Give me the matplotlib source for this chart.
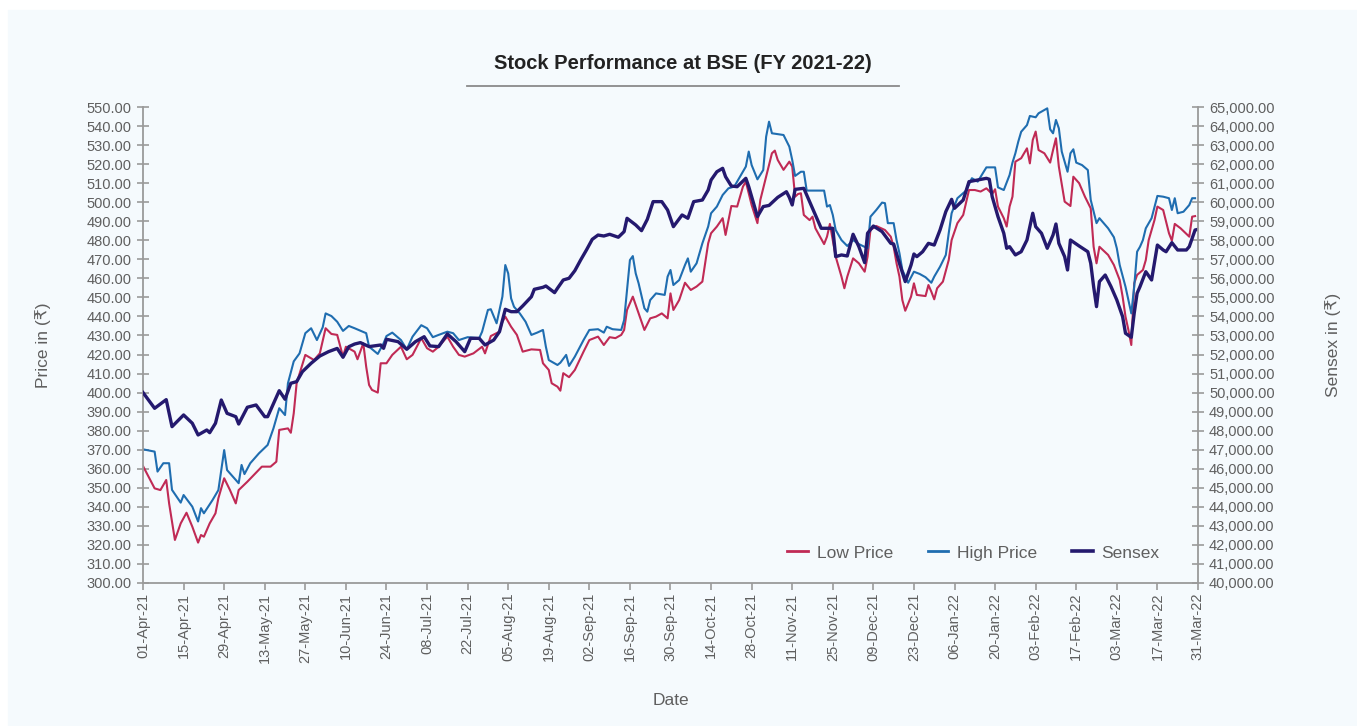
import numpy as np
import matplotlib.pyplot as plt
import matplotlib.dates as mdates
from matplotlib.lines import Line2D
from matplotlib.patches import Rectangle
from matplotlib.ticker import FuncFormatter

plt.rcParams['font.family'] = ['Liberation Sans', 'DejaVu Sans']

start = np.datetime64('2021-04-01')

# day offsets from 01-Apr-21 and values
low_days = [0, 4, 6, 8, 9, 11, 13, 15, 17, 19,
            20, 21, 23, 25, 26, 28, 30, 32, 33, 36,
            39, 41, 44, 46, 47, 50, 51, 52, 53, 56,
            59, 61, 63, 65, 67, 69, 70, 73, 74, 76,
            77, 78, 79, 81, 82, 84, 86, 89, 91, 93,
            96, 98, 100, 102, 105, 107, 109, 111, 114, 117,
            118, 120, 123, 124, 125, 127, 129, 131, 134, 137,
            138, 140, 141, 143, 144, 145, 147, 149, 152, 154,
            157, 159, 161, 163, 165, 166, 167, 169, 171, 173,
            175, 177, 179, 181, 182, 183, 185, 187, 189, 191,
            193, 195, 196, 198, 200, 201, 203, 205, 207, 208,
            210, 212, 213, 215, 217, 218, 219, 221, 223, 224,
            225, 226, 227, 228, 230, 231, 232, 235, 236, 237,
            239, 241, 242, 243, 245, 247, 249, 250, 251, 253,
            256, 258, 259, 260, 261, 262, 263, 265, 266, 267,
            270, 271, 272, 273, 274, 276, 278, 279, 281, 283,
            285, 287, 289, 291, 293, 294, 295, 297, 298, 299,
            300, 301, 303, 305, 306, 307, 308, 309, 311, 313,
            314, 315, 316, 318, 320, 321, 323, 325, 327, 328,
            329, 330, 333, 335, 337, 338, 339, 340, 341, 342,
            343, 345, 346, 347, 349, 350, 352, 353, 354, 355,
            356, 358, 361, 362, 363]
low_price = [361.4, 349.7, 348.8, 354.1, 341.8, 322.6, 331.3, 336.9, 329.6, 321.2,
             325.2, 324.3, 331.3, 336.6, 344.5, 355.0, 348.8, 341.8, 348.8, 353.2,
             357.9, 361.1, 361.1, 363.7, 380.4, 381.2, 378.9, 389.1, 404.9, 419.8,
             417.1, 420.6, 433.8, 430.8, 430.3, 418.9, 424.1, 421.5, 417.5, 425.9,
             413.6, 404.0, 401.4, 400.0, 415.4, 415.4, 419.8, 424.1, 417.5, 419.8,
             428.6, 423.3, 421.5, 424.1, 429.4, 424.1, 419.8, 418.9, 420.6, 424.1,
             420.6, 429.7, 432.0, 437.2, 439.9, 434.6, 430.3, 421.5, 422.7, 422.4,
             415.4, 411.9, 404.9, 403.1, 401.0, 410.2, 408.1, 411.9, 421.5, 427.6,
             429.4, 425.0, 429.1, 428.6, 430.3, 432.9, 443.4, 450.4, 441.7, 432.9,
             439.0, 439.9, 441.6, 439.0, 452.1, 443.4, 448.6, 457.7, 453.9, 455.7,
             458.3, 478.4, 483.7, 487.2, 491.6, 482.8, 498.0, 497.7, 508.2, 510.8,
             498.5, 489.0, 501.2, 513.4, 525.7, 527.1, 522.2, 517.0, 521.3, 518.7,
             502.9, 504.3, 504.7, 493.3, 490.6, 492.4, 486.3, 478.0, 481.9, 488.6,
             471.4, 460.9, 454.8, 460.9, 470.5, 467.9, 463.5, 471.4, 485.4, 487.5,
             485.4, 481.9, 476.6, 467.9, 460.9, 448.6, 443.0, 450.4, 457.4, 451.3,
             450.7, 456.5, 453.0, 449.0, 454.8, 458.3, 469.6, 480.1, 489.0, 493.3,
             506.4, 506.4, 505.6, 507.3, 504.3, 506.8, 497.7, 491.6, 487.2, 497.7,
             502.9, 521.3, 523.1, 528.3, 520.4, 532.7, 537.1, 527.4, 525.7, 520.8,
             527.4, 533.6, 518.7, 500.3, 498.0, 513.4, 510.0, 502.9, 496.8, 476.6,
             467.9, 476.6, 472.3, 467.0, 459.1, 450.4, 439.9, 432.9, 425.0, 457.4,
             461.8, 464.4, 469.6, 480.1, 490.6, 497.7, 495.9, 489.8, 483.7, 479.8,
             488.6, 486.3, 481.9, 492.4, 492.7]

high_days = [0, 4, 5, 7, 9, 10, 13, 14, 17, 19,
             20, 21, 24, 26, 28, 29, 32, 33, 34, 35,
             37, 40, 43, 45, 47, 49, 50, 52, 54, 56,
             58, 60, 62, 63, 65, 67, 69, 71, 73, 77,
             78, 81, 83, 84, 86, 89, 91, 93, 96, 98,
             100, 102, 105, 107, 109, 112, 116, 117, 119, 120,
             122, 124, 125, 126, 127, 128, 130, 132, 134, 136,
             138, 139, 140, 143, 144, 146, 147, 149, 152, 154,
             157, 159, 160, 162, 165, 166, 167, 168, 169, 170,
             171, 173, 174, 175, 177, 180, 181, 182, 183, 185,
             187, 188, 189, 191, 193, 195, 196, 198, 200, 202,
             204, 206, 208, 209, 210, 212, 214, 215, 216, 217,
             221, 223, 224, 225, 227, 228, 229, 235, 236, 237,
             238, 239, 241, 243, 245, 247, 250, 251, 253, 255,
             256, 257, 259, 260, 261, 262, 264, 266, 268, 270,
             272, 273, 275, 277, 278, 279, 281, 284, 286, 288,
             291, 294, 295, 297, 299, 300, 301, 302, 303, 305,
             306, 308, 309, 312, 313, 314, 315, 316, 317, 319,
             320, 321, 322, 324, 326, 327, 328, 329, 330, 333,
             335, 336, 337, 339, 340, 341, 342, 343, 344, 345,
             346, 348, 350, 352, 354, 355, 356, 357, 359, 361,
             362, 363]
high_price = [370.2, 369.0, 358.5, 362.9, 362.9, 348.9, 342.2, 346.2, 340.1, 332.3,
              339.3, 336.6, 343.6, 348.8, 369.8, 359.3, 354.1, 352.4, 362.0, 357.2,
              362.9, 368.1, 372.5, 381.2, 391.8, 388.2, 404.9, 416.4, 420.6, 431.2,
              433.8, 427.6, 434.3, 441.6, 440.2, 437.2, 432.4, 435.0, 433.8, 431.2,
              424.1, 420.3, 425.9, 429.7, 431.5, 427.6, 422.7, 429.4, 435.4, 433.8,
              429.1, 430.3, 432.0, 431.2, 427.6, 429.1, 428.6, 432.0, 443.4, 443.8,
              436.4, 450.4, 467.0, 462.6, 449.5, 445.1, 441.6, 437.2, 430.3, 431.5,
              432.9, 424.1, 417.1, 414.5, 415.7, 419.8, 414.0, 418.9, 427.6, 432.9,
              433.3, 431.5, 434.6, 433.3, 432.9, 438.1, 453.9, 469.6, 471.7, 462.6,
              457.4, 444.3, 442.5, 448.6, 452.1, 451.3, 460.9, 464.4, 456.5, 459.1,
              467.0, 470.5, 463.5, 467.9, 478.4, 487.2, 494.2, 497.7, 503.8, 507.3,
              508.2, 513.4, 518.7, 526.6, 519.5, 512.0, 516.9, 534.4, 542.3, 536.2,
              535.3, 529.2, 522.2, 513.8, 516.0, 516.0, 506.1, 506.1, 497.7, 498.5,
              493.3, 485.4, 480.1, 477.0, 480.1, 478.0, 475.8, 492.4, 495.9, 499.8,
              499.5, 489.0, 489.0, 480.1, 473.2, 464.4, 457.7, 463.5, 462.3, 460.6,
              457.7, 460.9, 466.1, 472.3, 483.7, 494.2, 502.1, 506.1, 512.6, 510.8,
              518.3, 518.3, 507.8, 506.4, 514.3, 520.8, 525.7, 531.8, 537.0, 540.5,
              545.3, 544.6, 546.7, 549.3, 538.3, 536.2, 543.2, 538.8, 526.6, 516.0,
              525.7, 527.8, 520.8, 519.5, 516.9, 501.2, 495.0, 489.0, 491.6, 486.3,
              481.6, 475.8, 467.0, 455.6, 448.6, 441.6, 455.6, 474.0, 476.6, 480.1,
              486.3, 491.6, 503.3, 502.9, 502.1, 495.9, 502.1, 494.2, 495.0, 498.5,
              502.1, 502.1]

sensex_days = [0, 4, 8, 10, 14, 17, 19, 22, 23, 25,
               27, 29, 32, 33, 36, 39, 42, 43, 47, 49,
               51, 53, 55, 58, 61, 64, 67, 69, 71, 73,
               75, 78, 82, 83, 84, 88, 91, 94, 97, 99,
               102, 105, 108, 111, 113, 116, 118, 121, 123, 125,
               127, 129, 131, 134, 135, 138, 139, 142, 143, 145,
               147, 149, 151, 153, 155, 157, 159, 161, 164, 166,
               167, 170, 172, 174, 176, 179, 181, 183, 186, 188,
               190, 193, 195, 196, 198, 200, 201, 203, 205, 208,
               209, 211, 212, 214, 216, 219, 222, 223, 224, 225,
               228, 230, 232, 234, 238, 239, 241, 243, 245, 247,
               249, 250, 252, 255, 258, 259, 261, 263, 265, 266,
               267, 269, 271, 273, 275, 277, 279, 280, 283, 285,
               288, 291, 292, 293, 295, 297, 298, 299, 301, 303,
               305, 306, 307, 308, 310, 312, 314, 315, 316, 318,
               319, 320, 323, 326, 327, 328, 329, 330, 332, 334,
               336, 338, 339, 341, 342, 343, 344, 346, 348, 350,
               352, 353, 355, 357, 360, 361, 363, 364]
sensex = [50000, 49175, 49630, 48210, 48825, 48390, 47775, 48035, 47895, 48390,
          49610, 48910, 48735, 48350, 49230, 49350, 48735, 48735, 50100, 49650,
          50490, 50575, 51100, 51540, 51920, 52150, 52320, 51855, 52410, 52550,
          52625, 52415, 52500, 52325, 52800, 52675, 52275, 52675, 52935, 52450,
          52415, 53080, 52675, 52150, 52850, 52850, 52500, 52760, 53200, 54375,
          54250, 54250, 54550, 55035, 55425, 55530, 55600, 55250, 55480, 55915,
          56005, 56405, 56965, 57490, 58050, 58275, 58225, 58315, 58160, 58455,
          59155, 58805, 58505, 59100, 60030, 60030, 59590, 58715, 59330, 59155,
          60030, 60115, 60640, 61165, 61600, 61780, 61340, 60850, 60815, 61255,
          60815, 59770, 59245, 59770, 59830, 60255, 60550, 60255, 59855, 60675,
          60730, 60030, 59330, 58630, 58630, 57140, 57230, 57175, 58315, 57665,
          56825, 58370, 58750, 58455, 57840, 57805, 56790, 55830, 56700, 57280,
          57140, 57400, 57840, 57750, 58540, 59505, 60150, 59680, 60115, 61080,
          61165, 61255, 61205, 60290, 59240, 58370, 57580, 57665, 57230, 57400,
          58015, 58715, 59420, 58715, 58370, 57580, 58280, 58855, 57840, 57140,
          56440, 58015, 57700, 57400, 56790, 55565, 54515, 55830, 56175, 55565,
          54865, 53990, 53115, 52905, 54165, 55215, 55565, 56350, 55915, 57750,
          57490, 57400, 57875, 57490, 57490, 57665, 58540, 58575]

low_dates = start + np.array(low_days)
high_dates = start + np.array(high_days)
sensex_dates = start + np.array(sensex_days)

c_low = '#c02a55'
c_high = '#1f6db0'
c_sensex = '#24196e'
grey = '#9a9a9a'
text_c = '#5f5f5f'

fig = plt.figure(figsize=(13.57, 7.26), dpi=100)
fig.patches.append(Rectangle((0.006, 0), 0.994, 0.986, transform=fig.transFigure,
                             color='#f5fafd', zorder=-1))

ax = fig.add_axes([0.1054, 0.197, 0.7774, 0.6556])
ax.set_facecolor('none')
ax2 = ax.twinx()

ax.plot(low_dates, low_price, color=c_low, lw=1.5)
ax.plot(high_dates, high_price, color=c_high, lw=1.5)
ax2.plot(sensex_dates, sensex, color=c_sensex, lw=2.4)

ax.set_xlim(start, start + 364)
ax.set_ylim(300, 550)
ax2.set_ylim(40000, 65000)
ax.set_yticks(np.arange(300, 551, 10))
ax2.set_yticks(np.arange(40000, 65001, 1000))
ax.yaxis.set_major_formatter(FuncFormatter(lambda v, p: f'{v:.2f}'))
ax2.yaxis.set_major_formatter(FuncFormatter(lambda v, p: f'{v:,.2f}'))
ax.set_xticks(start + np.arange(0, 365, 14))
ax.xaxis.set_major_formatter(mdates.DateFormatter('%d-%b-%y'))
plt.setp(ax.get_xticklabels(), rotation=90)

for a in (ax, ax2):
    for s in a.spines.values():
        s.set_visible(False)
    a.tick_params(colors=grey, labelcolor=text_c, labelsize=10.5, width=1.2)
ax.spines['left'].set_visible(True)
ax.spines['bottom'].set_visible(True)
ax2.spines['right'].set_visible(True)
for s in (ax.spines['left'], ax.spines['bottom'], ax2.spines['right']):
    s.set_color(grey)
    s.set_linewidth(1.3)
ax.tick_params(axis='y', direction='inout', length=9)
ax.tick_params(axis='x', direction='out', length=5, pad=2)
ax2.tick_params(axis='y', direction='inout', length=9)

ax.set_ylabel('Price in (₹)', fontsize=12.5, color=text_c, labelpad=26)
ax2.set_ylabel('Sensex in (₹)', fontsize=12.5, color=text_c, labelpad=36)
ax.set_xlabel('Date', fontsize=12.5, color=text_c, labelpad=22)

fig.text(0.503, 0.913, 'Stock Performance at BSE (FY 2021-22)', ha='center', va='center',
         fontsize=14.5, fontweight='bold', color='#222222')
fig.add_artist(Line2D([0.344, 0.6625], [0.8815, 0.8815], transform=fig.transFigure,
                      color='#8a8a8a', lw=1.3))

handles = [Line2D([], [], color=c_low, lw=2),
           Line2D([], [], color=c_high, lw=2),
           Line2D([], [], color=c_sensex, lw=2.6)]
ax2.legend(handles, ['Low Price', 'High Price', 'Sensex'], loc='center',
           bbox_to_anchor=(0.787, 0.063), ncol=3, frameon=False, fontsize=12.5,
           labelcolor=text_c, handlelength=1.2, handletextpad=0.5, columnspacing=2.0)

fig.savefig('out.png', dpi=100)
